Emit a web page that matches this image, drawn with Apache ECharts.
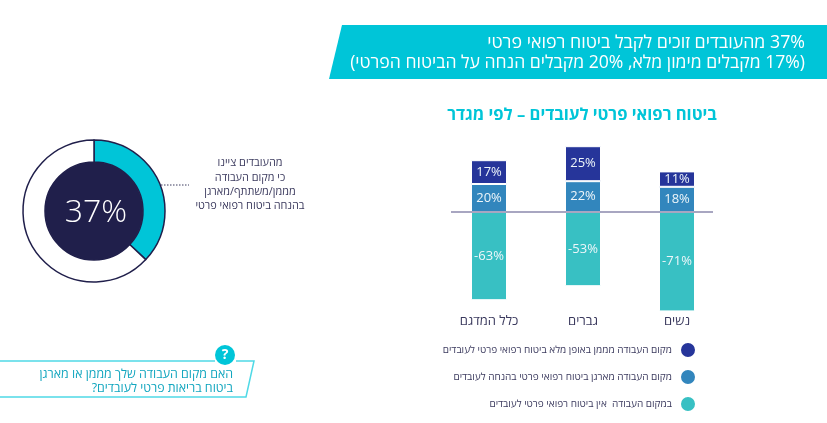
<!DOCTYPE html>
<html dir="rtl"><head><meta charset="utf-8">
<style>html,body{margin:0;padding:0;background:#fff}#c{width:827px;height:423px}</style>
<script src="https://cdn.jsdelivr.net/npm/echarts@6/dist/echarts.min.js"></script>
</head><body><div id="c"></div>
<script>
const categories = ['כלל המדגם', 'גברים', 'נשים'];
const partialValues = [20, 22, 18];
const fullValues = [17, 25, 11];
const noneValues = [-63, -53, -71];
const fullName = 'מקום העבודה מממן באופן מלא ביטוח רפואי פרטי לעובדים';
const partialName = 'מקום העבודה מארגן ביטוח רפואי פרטי בהנחה לעובדים';
const noneName = 'במקום העבודה  אין ביטוח רפואי פרטי לעובדים';
const donutValues = [37, 63];
const bannerLines = ['37% מהעובדים זוכים לקבל ביטוח רפואי פרטי', '(17% מקבלים מימון מלא, 20% מקבלים הנחה על הביטוח הפרטי)'];
const chartTitle = 'ביטוח רפואי פרטי לעובדים – לפי מגדר';
const noteLines = ['מהעובדים ציינו', 'כי מקום העבודה', 'מממן/משתתף/מארגן', 'בהנחה ביטוח רפואי פרטי'];
const questionLines = ['האם מקום העבודה שלך מממן או מארגן', 'ביטוח בריאות פרטי לעובדים?'];

const FONT = '"Open Sans","Noto Sans","Liberation Sans","DejaVu Sans",sans-serif';
const CYAN = '#00c5d8', DARK = '#201f4b', TXT = '#3b3a5e';
const pct = p => '\u200E' + p.value + '%';
const txt = (x, y, s, size, fill, align, weight) => ({
  type: 'text', x, y, silent: true,
  style: { text: s, fontSize: size, fontFamily: FONT, fill, align: align || 'right', verticalAlign: 'middle', fontWeight: weight || 'normal' }
});
const barSeries = (name, data, color) => ({
  name, type: 'bar', stack: 'a', data, barWidth: 36,
  itemStyle: { color, borderColor: '#fff', borderWidth: 1 },
  label: { show: true, position: 'inside', color: '#eef6fa', fontSize: 13, fontFamily: FONT, formatter: pct }
});
const noneSeries = barSeries(noneName, noneValues, '#38c0c3');
noneSeries.markLine = {
  silent: true, symbol: 'none', label: { show: false }, animation: false,
  lineStyle: { color: '#8b88ad', type: 'solid', width: 1.5 },
  data: [[{ x: 451, yAxis: 0 }, { x: 713, yAxis: 0 }]]
};

const chart = echarts.init(document.getElementById('c'));
chart.setOption({
  animation: false,
  backgroundColor: '#fff',
  textStyle: { fontFamily: FONT },
  grid: { left: 442, width: 282, top: 128, height: 184.8 },
  xAxis: {
    type: 'category', data: categories,
    axisLine: { show: false }, axisTick: { show: false },
    axisLabel: { color: TXT, fontSize: 13, fontFamily: FONT, margin: 2, verticalAlign: 'top' }
  },
  yAxis: { type: 'value', min: -72, max: 60, show: false, splitLine: { show: false } },
  legend: {
    orient: 'vertical', right: 125, top: 336, height: 86, align: 'right', icon: 'circle',
    itemWidth: 16, itemHeight: 16, itemGap: 9, selectedMode: false,
    data: [fullName, partialName, noneName],
    textStyle: { color: TXT, fontSize: 10, fontFamily: FONT, padding: [0, 3, 0, 0] }
  },
  series: [
    barSeries(partialName, partialValues, '#3286bd'),
    barSeries(fullName, fullValues, '#26359a'),
    noneSeries,
    {
      type: 'pie', center: [94, 211], radius: [49, 71], startAngle: 90, clockwise: true,
      silent: true, label: { show: false }, labelLine: { show: false }, legendHoverLink: false,
      itemStyle: { borderColor: DARK, borderWidth: 1.5 },
      data: [
        { name: 'a', value: donutValues[0], itemStyle: { color: CYAN } },
        { name: 'b', value: donutValues[1], itemStyle: { color: '#fff' } }
      ]
    }
  ],
  graphic: { elements: [
    { type: 'polygon', shape: { points: [[342, 25], [827, 25], [827, 79], [329, 79]] }, style: { fill: CYAN }, silent: true },
    txt(805, 43, bannerLines[0], 17.8, '#fff'),
    txt(805, 63, bannerLines[1], 17.6, '#fff'),
    txt(582, 115, chartTitle, 16.6, CYAN, 'center', 'bold'),
    { type: 'circle', shape: { cx: 94, cy: 211, r: 49 }, style: { fill: DARK }, z: 10, silent: true },
    Object.assign(txt(96, 213, '\u200E37%', 32, '#fff', 'center', 300), { z: 11 }),
    { type: 'line', shape: { x1: 161, y1: 185, x2: 189, y2: 185 }, style: { stroke: '#3b3a5e', lineWidth: 1, lineDash: [1.5, 1.5] }, silent: true },
    ...noteLines.map((s, i) => txt(250, [163, 178, 192, 206][i], s, 10.9, TXT, 'center')),
    { type: 'polyline', shape: { points: [[0, 361], [215, 361]] }, style: { stroke: '#4fd9e6', lineWidth: 1.5, fill: 'none' }, silent: true },
    { type: 'polyline', shape: { points: [[236, 361], [254, 361], [246, 397], [0, 397]] }, style: { stroke: '#4fd9e6', lineWidth: 1.5, fill: 'none' }, silent: true },
    { type: 'circle', shape: { cx: 225, cy: 355, r: 10 }, style: { fill: CYAN }, silent: true },
    txt(225, 355, '?', 14, '#fff', 'center', 'bold'),
    txt(233, 374, questionLines[0], 12.4, '#12a6bf'),
    txt(233, 388, questionLines[1], 12.4, '#12a6bf')
  ] }
});
</script></body></html>
